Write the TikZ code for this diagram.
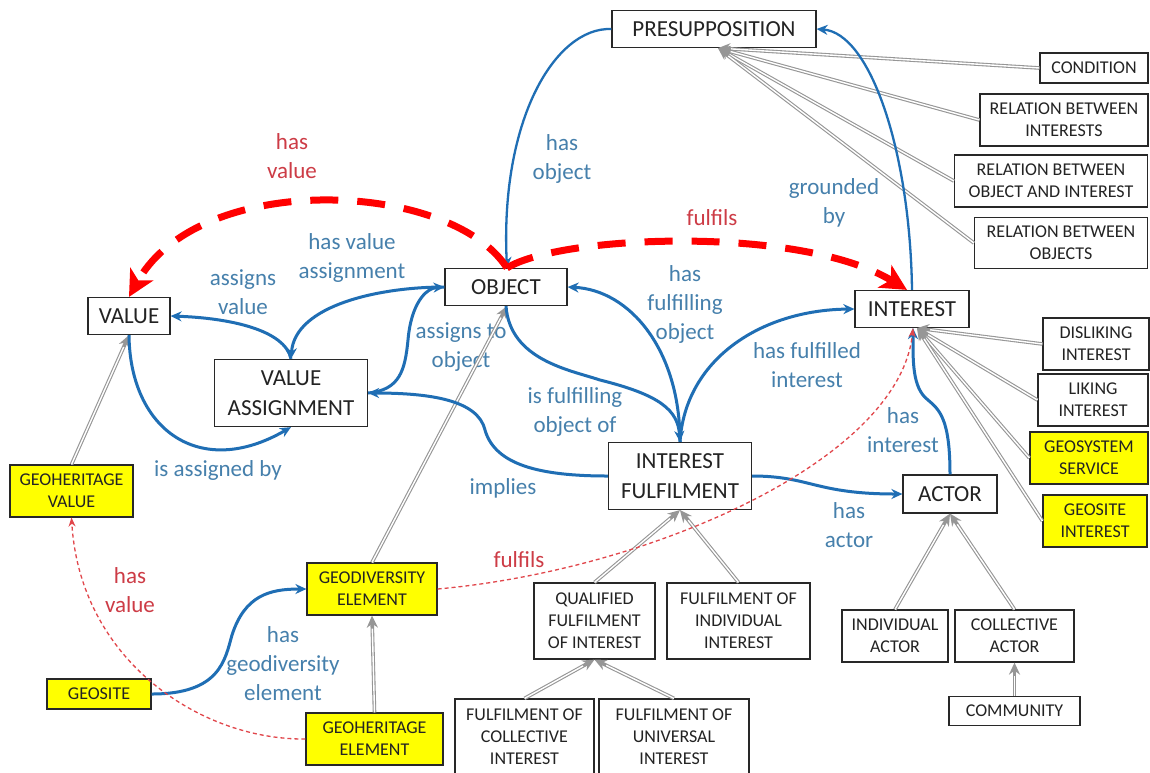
\documentclass[tikz,border=0pt]{standalone}
\usepackage{fontspec}
\setmainfont{Carlito}
\usetikzlibrary{arrows.meta}

\definecolor{bluec}{RGB}{31,110,180}
\definecolor{bluetext}{RGB}{70,128,172}
\definecolor{redlab}{RGB}{205,60,70}
\definecolor{redthin}{RGB}{225,70,75}
\definecolor{grayc}{RGB}{150,150,150}
\definecolor{boxc}{RGB}{40,40,40}
\definecolor{txt}{RGB}{35,35,35}
\definecolor{yel}{RGB}{255,255,0}

\newcommand\bigf{\fontsize{23}{30}\selectfont}
\newcommand\smf{\fontsize{18}{22}\selectfont}
\newcommand\labf{\fontsize{23}{29}\selectfont}

\begin{document}
\begin{tikzpicture}[x=1pt,y=-1pt,
  box/.style={draw=boxc, line width=1.2pt, fill=white, text=txt, align=center, inner sep=0pt},
  big/.style={box, font=\bigf},
  small/.style={box, font=\smf},
  yl/.style={fill=yel},
  wh/.style 2 args={minimum width=#1pt, minimum height=#2pt},
  lab/.style={text=bluetext, font=\labf, align=center, inner sep=0pt},
  rlab/.style={lab, text=redlab},
  rel/.style={draw=bluec, line width=3pt, -{Stealth[length=11pt,width=10pt]}},
  thinrel/.style={rel, line width=2.3pt},
  bigred/.style={draw=red, line width=7pt, dash pattern=on 28pt off 19pt,
    -{Stealth[length=26pt,width=26pt,inset=7pt]}},
  thinred/.style={draw=redthin, line width=1.3pt, dash pattern=on 4pt off 3pt,
    -{Stealth[length=9pt,width=7pt]}},
  isa/.style={draw=grayc, line width=3.6pt, -{Stealth[length=12pt,width=11pt]},
    postaction={draw=white, line width=1.4pt, -, shorten >=13pt}}
]
\useasboundingbox[fill=white] (0,0) rectangle (1150,772);

% ---------- concept boxes ----------
\node[big, wh={204}{37}] (pres) at (714,29) {PRESUPPOSITION};
\node[small, wh={108}{30}] (cond) at (1094,68) {CONDITION};
\node[small, wh={168}{52}] (rint) at (1064,120) {RELATION BETWEEN\\INTERESTS};
\node[small, wh={193}{52}] (roi) at (1051,181) {RELATION BETWEEN\\OBJECT AND INTEREST};
\node[small, wh={173}{51}] (robj) at (1061,243) {RELATION BETWEEN\\OBJECTS};

\node[big, wh={82}{37}] (value) at (129,316) {VALUE};
\node[big, wh={122}{37}] (object) at (506,287) {OBJECT};
\node[big, wh={114}{37}] (interest) at (912,309) {INTEREST};
\node[big, wh={153}{67}] (va) at (291,393) {VALUE\\ASSIGNMENT};
\node[big, wh={143}{67}] (if) at (680,476) {INTEREST\\FULFILMENT};
\node[big, wh={94}{38}] (actor) at (950,494) {ACTOR};

\node[small, wh={106}{52}] (disl) at (1096,344) {DISLIKING\\INTEREST};
\node[small, wh={110}{52}] (lik) at (1093,400) {LIKING\\INTEREST};
\node[small, yl, wh={118}{52}] (geoss) at (1089,458) {GEOSYSTEM\\SERVICE};
\node[small, yl, wh={104}{52}] (geoint) at (1095,521) {GEOSITE\\INTEREST};

\node[small, wh={106}{52}] (indact) at (895,636) {INDIVIDUAL\\ACTOR};
\node[small, wh={119}{52}] (colact) at (1014.5,636) {COLLECTIVE\\ACTOR};
\node[small, wh={131}{29}] (community) at (1014.5,711) {COMMUNITY};

\node[small, yl, wh={123}{52}] (ghv) at (71.5,491) {GEOHERITAGE\\VALUE};
\node[small, yl, wh={130}{52}] (gde) at (372,589) {GEODIVERSITY\\ELEMENT};
\node[small, yl, wh={104}{30}] (geosite) at (99,694) {GEOSITE};
\node[small, yl, wh={137}{52}] (ghe) at (374.5,739) {GEOHERITAGE\\ELEMENT};

\node[small, wh={121}{76}] (qfi) at (594.5,621) {QUALIFIED\\FULFILMENT\\OF INTEREST};
\node[small, wh={143}{76}] (fii) at (738.5,621) {FULFILMENT OF\\INDIVIDUAL\\INTEREST};
\node[small, wh={139}{76}] (fci) at (524.5,737) {FULFILMENT OF\\COLLECTIVE\\INTEREST};
\node[small, wh={150}{76}] (fui) at (674,737) {FULFILMENT OF\\UNIVERSAL\\INTEREST};

% ---------- relation labels ----------
\node[rlab] (lhv1) at (292,156) {has\\value};
\node[lab] (lho) at (562,159) {has\\object};
\node[lab] (lgb) at (834,203) {grounded\\by};
\node[rlab] (lfu1) at (712,218) {fulfils};
\node[lab] (lhva) at (352,258) {has value\\assignment};
\node[lab] (lav) at (243,292) {assigns\\value};
\node[lab] (lhfo) at (685,304) {has\\fulfilling\\object};
\node[lab] (lato) at (461,347) {assigns to\\object};
\node[lab] (lhfi) at (807,365) {has fulfilled\\interest};
\node[lab] (lifo) at (575,412) {is fulfilling\\object of};
\node[lab] (liab) at (218,470) {is assigned by};
\node[lab] (limp) at (503,488) {implies};
\node[lab] (lhi) at (903,430) {has\\interest};
\node[lab] (lha) at (849,525) {has\\actor};
\node[rlab] (lfu2) at (519,560) {fulfils};
\node[rlab] (lhv2) at (130,590) {has\\value};
\node[lab] (lhge) at (283,664) {has\\geodiversity\\element};

% ---------- specialisation links ----------
\draw[isa] (cond.west) -- ([xshift=4pt]pres.south);
\draw[isa] (rint.west) -- ([xshift=4pt]pres.south);
\draw[isa] (roi.west) -- ([xshift=4pt]pres.south);
\draw[isa] (robj.west) -- ([xshift=4pt]pres.south);
\draw[isa] (disl.west) -- ([xshift=5pt]interest.south);
\draw[isa] (lik.west) -- ([xshift=5pt]interest.south);
\draw[isa] (geoss.west) -- ([xshift=5pt]interest.south);
\draw[isa] (geoint.west) -- ([xshift=5pt]interest.south);
\draw[isa] (indact.north) -- (actor.south);
\draw[isa] (colact.north) -- (actor.south);
\draw[isa] (community.north) -- (colact.south);
\draw[isa] (qfi.north) -- (if.south);
\draw[isa] (fii.north) -- (if.south);
\draw[isa] (fci.north) -- (qfi.south);
\draw[isa] (fui.north) -- (qfi.south);
\draw[isa] (ghv.north) -- (value.south);
\draw[isa] (gde.north) -- ([xshift=1pt]object.south);
\draw[isa] (ghe.north) -- (gde.south);

% ---------- object properties ----------
\draw[thinrel] (pres.west) .. controls (555,27) and (500,120) .. ([xshift=1pt]object.north);
\draw[thinrel] (interest.north) .. controls (910,150) and (870,33) .. (pres.east);
\draw[rel] (if.north) .. controls (685,360) and (760,310) .. (interest.west);
\draw[rel] (if.north) .. controls (680,350) and (630,290) .. (object.east);
\draw[rel] (object.south) .. controls (510,360) and (570,370) .. (600,380)
  .. controls (660,395) and (678,410) .. (if.north);
\draw[rel] (if.west) .. controls (540,476) and (495,465) .. (485,430)
  .. controls (478,400) and (430,393) .. (va.east);
\draw[rel] (va.east) .. controls (400,390) and (405,370) .. (408,340)
  .. controls (411,305) and (425,288) .. (object.west);
\draw[rel] (object.west) .. controls (380,287) and (295,305) .. (va.north);
\draw[rel] (va.north) .. controls (285,330) and (230,318) .. (value.east);
\draw[rel] (value.south) .. controls (130,430) and (200,480) .. (va.south);
\draw[rel] (if.east) .. controls (810,476) and (815,494) .. (actor.west);
\draw[rel] (actor.north) .. controls (950,420) and (940,410) .. (928,400)
  .. controls (912,388) and (913,360) .. ([xshift=1pt]interest.south);
\draw[rel] (geosite.east) .. controls (220,694) and (225,660) .. (232,635)
  .. controls (245,595) and (270,589) .. (gde.west);

% ---------- derived properties ----------
\draw[thinred] (ghe.west) .. controls (200,740) and (80,660) .. (ghv.south);
\draw[thinred] (gde.east) .. controls (650,570) and (900,460) .. ([xshift=1pt]interest.south);
\draw[bigred] ([xshift=1pt]object.north) .. controls (450,180) and (200,170) .. (value.north);
\draw[bigred] ([xshift=1pt]object.north) .. controls (560,235) and (800,225) .. ([xshift=-5pt]interest.north);
\end{tikzpicture}
\end{document}
